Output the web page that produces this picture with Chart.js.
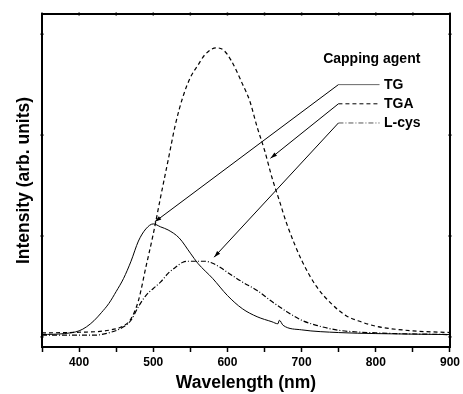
<!DOCTYPE html>
<html lang="en">
<head>
  <meta charset="UTF-8" />
  <title>Capping agent PL spectra</title>
  <script src="https://cdn.jsdelivr.net/npm/chart.js"></script>
  <style>
    body { margin: 0; padding: 0; background: #fff; }
    #wrap { width: 463px; height: 394px; }
  </style>
</head>
<body>
  <div id="wrap"><canvas id="plChart" width="463" height="394"></canvas></div>

  <script>
    // values (intensity in arb. units)
    const tgWl  = [350, 380, 400, 410, 420, 430, 440, 450, 460, 470, 480, 490, 500, 510, 520, 535, 550, 560, 580, 600, 620, 640, 660, 668, 670, 675, 700, 750, 800, 900];
    const tgVal = [0.023, 0.033, 0.06, 0.1, 0.16, 0.24, 0.33, 0.45, 0.58, 0.75, 0.95, 1.07, 1.12, 1.09, 1.06, 0.98, 0.83, 0.73, 0.58, 0.41, 0.28, 0.2, 0.15, 0.13, 0.165, 0.115, 0.07, 0.043, 0.033, 0.023];

    const tgaWl  = [350, 400, 440, 460, 470, 480, 490, 500, 510, 520, 530, 540, 550, 560, 570, 585, 595, 605, 620, 630, 640, 650, 660, 670, 680, 700, 720, 740, 760, 780, 800, 850, 900];
    const tgaVal = [0.04, 0.046, 0.066, 0.11, 0.18, 0.36, 0.69, 1.02, 1.39, 1.75, 2.11, 2.38, 2.57, 2.69, 2.8, 2.865, 2.84, 2.74, 2.51, 2.34, 2.08, 1.85, 1.58, 1.35, 1.12, 0.76, 0.5, 0.33, 0.21, 0.15, 0.106, 0.06, 0.043];

    const cysWl  = [350, 420, 440, 460, 470, 480, 490, 500, 510, 520, 530, 540, 550, 570, 580, 590, 600, 620, 640, 660, 680, 700, 720, 750, 800, 900];
    const cysVal = [0.017, 0.017, 0.04, 0.1, 0.165, 0.3, 0.41, 0.48, 0.545, 0.63, 0.69, 0.74, 0.75, 0.75, 0.73, 0.69, 0.64, 0.545, 0.46, 0.35, 0.25, 0.165, 0.115, 0.066, 0.04, 0.023];

    const seriesNames = ["TG", "TGA", "L-cys"];
    const xTicks = [350, 400, 450, 500, 550, 600, 650, 700, 750, 800, 850, 900];
    const yTicks = [0, 1, 2, 3];

    const toPoints = (xs, ys) => xs.map((x, i) => ({ x, y: ys[i] }));

    // legend + arrows, placed in data units
    const legendTitle = { text: "Capping agent", x: 729, y: 2.75 };
    const legendRows = [
      { name: "TG",    y: 2.50, dash: [],            color: "#666", tip: [502, 1.14] },
      { name: "TGA",   y: 2.31, dash: [4, 3],        color: "#000", tip: [658, 1.77] },
      { name: "L-cys", y: 2.12, dash: [5, 2, 1, 2],  color: "#555", tip: [582, 0.79] }
    ];
    const legendLineX = [749.6, 805];
    const legendTextX = 811;

    const overlay = {
      id: "overlay",
      afterDatasetsDraw(chart) {
        const { ctx, chartArea: a, scales: { x, y } } = chart;
        ctx.save();

        // frame
        ctx.strokeStyle = "#000";
        ctx.lineWidth = 2;
        ctx.strokeRect(a.left, a.top, a.right - a.left, a.bottom - a.top);

        // small ticks on top and right edges
        ctx.lineWidth = 1.5;
        xTicks.forEach(v => {
          const px = x.getPixelForValue(v);
          ctx.beginPath(); ctx.moveTo(px, a.top - 1.5); ctx.lineTo(px, a.top + 1.5); ctx.stroke();
        });
        yTicks.forEach(v => {
          const py = y.getPixelForValue(v);
          ctx.beginPath(); ctx.moveTo(a.right - 1.5, py); ctx.lineTo(a.right + 1.5, py); ctx.stroke();
          ctx.beginPath(); ctx.moveTo(a.left - 1.5, py); ctx.lineTo(a.left + 1.5, py); ctx.stroke();
        });

        // legend
        ctx.fillStyle = "#000";
        ctx.font = "bold 14px 'Liberation Sans', Arial, sans-serif";
        ctx.textBaseline = "middle";
        ctx.textAlign = "left";
        ctx.fillText(legendTitle.text, x.getPixelForValue(legendTitle.x), y.getPixelForValue(legendTitle.y));

        const x0 = x.getPixelForValue(legendLineX[0]);
        const x1 = x.getPixelForValue(legendLineX[1]);
        legendRows.forEach(r => {
          const py = y.getPixelForValue(r.y);
          ctx.strokeStyle = r.color;
          ctx.lineWidth = 1;
          ctx.setLineDash(r.dash);
          ctx.beginPath(); ctx.moveTo(x0, py); ctx.lineTo(x1, py); ctx.stroke();
          ctx.setLineDash([]);
          ctx.fillText(r.name, x.getPixelForValue(legendTextX), py + 0.5);

          // arrow to the curve
          const tx = x.getPixelForValue(r.tip[0]);
          const ty = y.getPixelForValue(r.tip[1]);
          ctx.strokeStyle = "#000";
          ctx.beginPath(); ctx.moveTo(x0, py); ctx.lineTo(tx, ty); ctx.stroke();
          const ang = Math.atan2(ty - py, tx - x0);
          const L = 7, W = 0.3;
          ctx.beginPath();
          ctx.moveTo(tx, ty);
          ctx.lineTo(tx - L * Math.cos(ang - W), ty - L * Math.sin(ang - W));
          ctx.lineTo(tx - L * Math.cos(ang + W), ty - L * Math.sin(ang + W));
          ctx.closePath();
          ctx.fill();
        });

        ctx.restore();
      }
    };

    const ctx = document.getElementById("plChart").getContext("2d");
    new Chart(ctx, {
      type: "line",
      data: {
        datasets: [
          {
            label: seriesNames[0],
            data: toPoints(tgWl, tgVal),
            borderColor: "#000",
            borderWidth: 1,
            pointRadius: 0,
            cubicInterpolationMode: "monotone"
          },
          {
            label: seriesNames[1],
            data: toPoints(tgaWl, tgaVal),
            borderColor: "#000",
            borderWidth: 1.2,
            borderDash: [4, 3],
            pointRadius: 0,
            cubicInterpolationMode: "monotone"
          },
          {
            label: seriesNames[2],
            data: toPoints(cysWl, cysVal),
            borderColor: "#000",
            borderWidth: 1.2,
            borderDash: [5, 2, 1, 2],
            pointRadius: 0,
            cubicInterpolationMode: "monotone"
          }
        ]
      },
      options: {
        responsive: false,
        animation: false,
        layout: { padding: { top: 14, right: 11, left: 0, bottom: 0 } },
        plugins: {
          legend: { display: false },
          tooltip: { enabled: false }
        },
        scales: {
          x: {
            type: "linear",
            min: 350,
            max: 900,
            afterBuildTicks: s => { s.ticks = xTicks.map(v => ({ value: v })); },
            afterFit: s => { s.height = 47; },
            border: { display: false },
            grid: {
              drawOnChartArea: false,
              drawTicks: true,
              tickLength: 5,
              tickWidth: 1.5,
              color: "#000"
            },
            ticks: {
              color: "#000",
              padding: 3,
              maxRotation: 0,
              autoSkip: false,
              font: { family: "'Liberation Sans', Arial, sans-serif", size: 12, weight: "bold" },
              callback: v => (v % 100 === 0 ? String(v) : "")
            },
            title: {
              display: true,
              text: "Wavelength (nm)",
              color: "#000",
              padding: { top: 2, bottom: 0 },
              font: { family: "'Liberation Sans', Arial, sans-serif", size: 17.5, weight: "bold" }
            }
          },
          y: {
            min: -0.1,
            max: 3.2,
            afterBuildTicks: s => { s.ticks = yTicks.map(v => ({ value: v })); },
            afterFit: s => { s.width = 42; },
            border: { display: false },
            grid: { display: false },
            ticks: { display: false },
            title: {
              display: true,
              text: "Intensity (arb. units)",
              color: "#000",
              padding: { top: 14, bottom: 0 },
              font: { family: "'Liberation Sans', Arial, sans-serif", size: 17.5, weight: "bold" }
            }
          }
        }
      },
      plugins: [overlay]
    });
  </script>
</body>
</html>
